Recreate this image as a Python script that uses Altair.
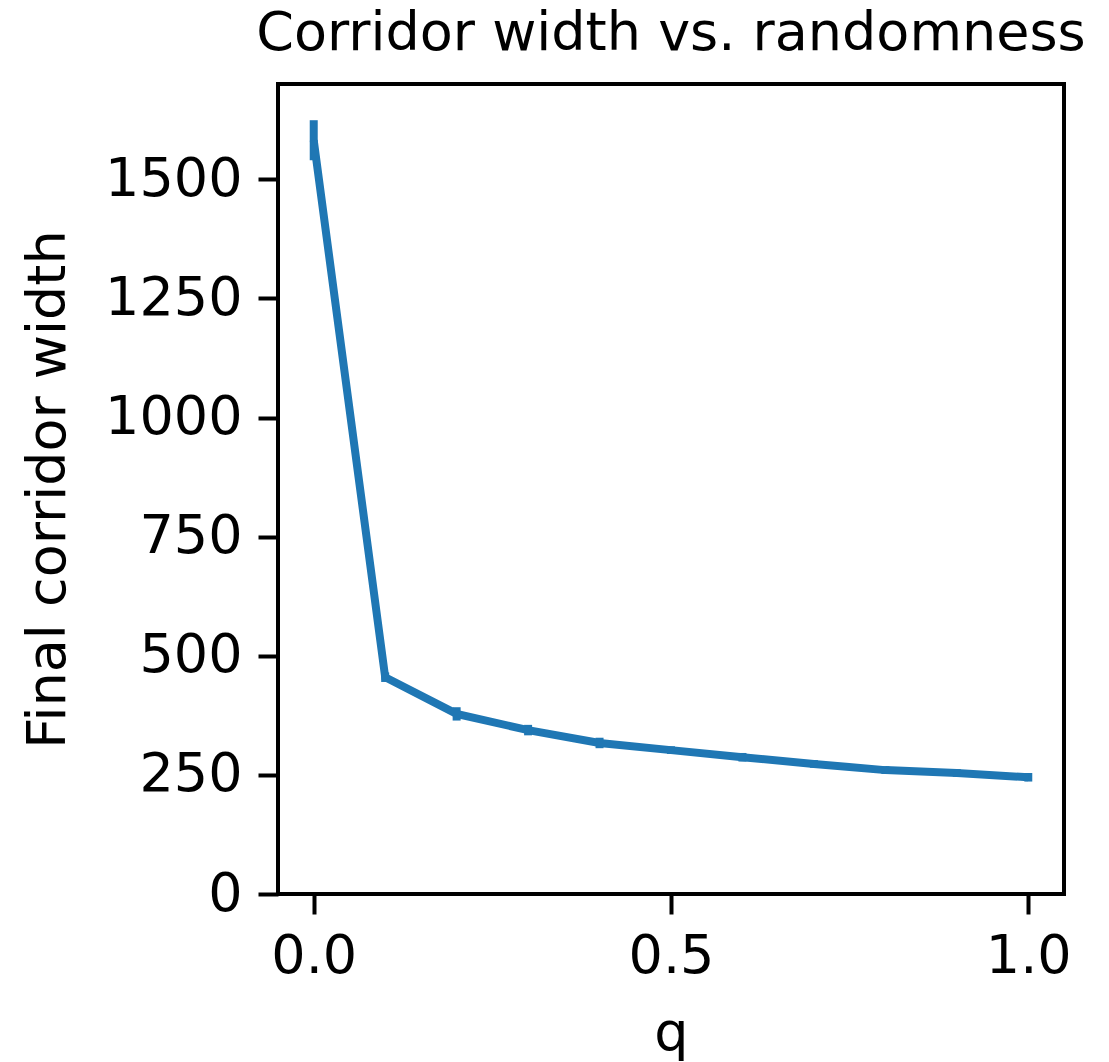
import altair as alt
import pandas as pd

# Final corridor width for each randomness level q, with run-to-run spread
q_values = [0.0, 0.1, 0.2, 0.3, 0.4, 0.5, 0.6, 0.7, 0.8, 0.9, 1.0]
widths = [1582, 455, 378, 344, 317, 302, 287, 273, 260, 254, 245]
errors = [42, 10, 14, 11, 11, 8, 9, 8, 8, 8, 9]

df = pd.DataFrame({"q": q_values, "width": widths, "err": errors})
df["lo"] = df["width"] - df["err"]
df["hi"] = df["width"] + df["err"]

BLUE = "#1f77b4"
FONT = "DejaVu Sans"
FS = 54

x_scale = alt.Scale(domain=[-0.05, 1.05], nice=False, zero=False)
y_scale = alt.Scale(domain=[0, 1700], nice=False)

x_axis = alt.Axis(
    values=[0.0, 0.5, 1.0], format=".1f", title="q",
    grid=False, domain=False, tickColor="black", tickWidth=4, tickSize=20,
    labelFont=FONT, labelFontSize=FS, labelColor="black", labelPadding=15,
    titleFont=FONT, titleFontSize=FS, titleFontWeight="normal", titleColor="black",
    titleY=155, titleBaseline="alphabetic",
)
y_axis = alt.Axis(
    values=[0, 250, 500, 750, 1000, 1250, 1500], format="d",
    title="Final corridor width",
    grid=False, domain=False, tickColor="black", tickWidth=4, tickSize=20,
    labelFont=FONT, labelFontSize=FS, labelColor="black", labelPadding=16,
    titleFont=FONT, titleFontSize=FS, titleFontWeight="normal", titleColor="black",
    titleX=-214, titleY=405, titleAngle=270, titleBaseline="alphabetic",
)

base = alt.Chart(df)

line = base.mark_line(color=BLUE, strokeWidth=8).encode(
    x=alt.X("q:Q", scale=x_scale, axis=x_axis),
    y=alt.Y("width:Q", scale=y_scale, axis=y_axis),
)

bars = base.mark_rule(color=BLUE, strokeWidth=8).encode(
    x=alt.X("q:Q", scale=x_scale),
    y=alt.Y("lo:Q", scale=y_scale),
    y2="hi:Q",
)

chart = (
    alt.layer(bars, line)
    .properties(
        width=786,
        height=810,
        background="white",
        title=alt.TitleParams(
            "Corridor width vs. randomness",
            font=FONT, fontSize=FS, fontWeight="normal", color="black",
            anchor="middle", offset=23,
        ),
        autosize=alt.AutoSizeParams(type="none"),
        padding={"left": 278, "top": 84, "right": 45, "bottom": 168},
    )
    .configure_view(stroke="black", strokeWidth=4)
)

chart.save("out.html", embed_options={"renderer": "svg", "actions": False})
